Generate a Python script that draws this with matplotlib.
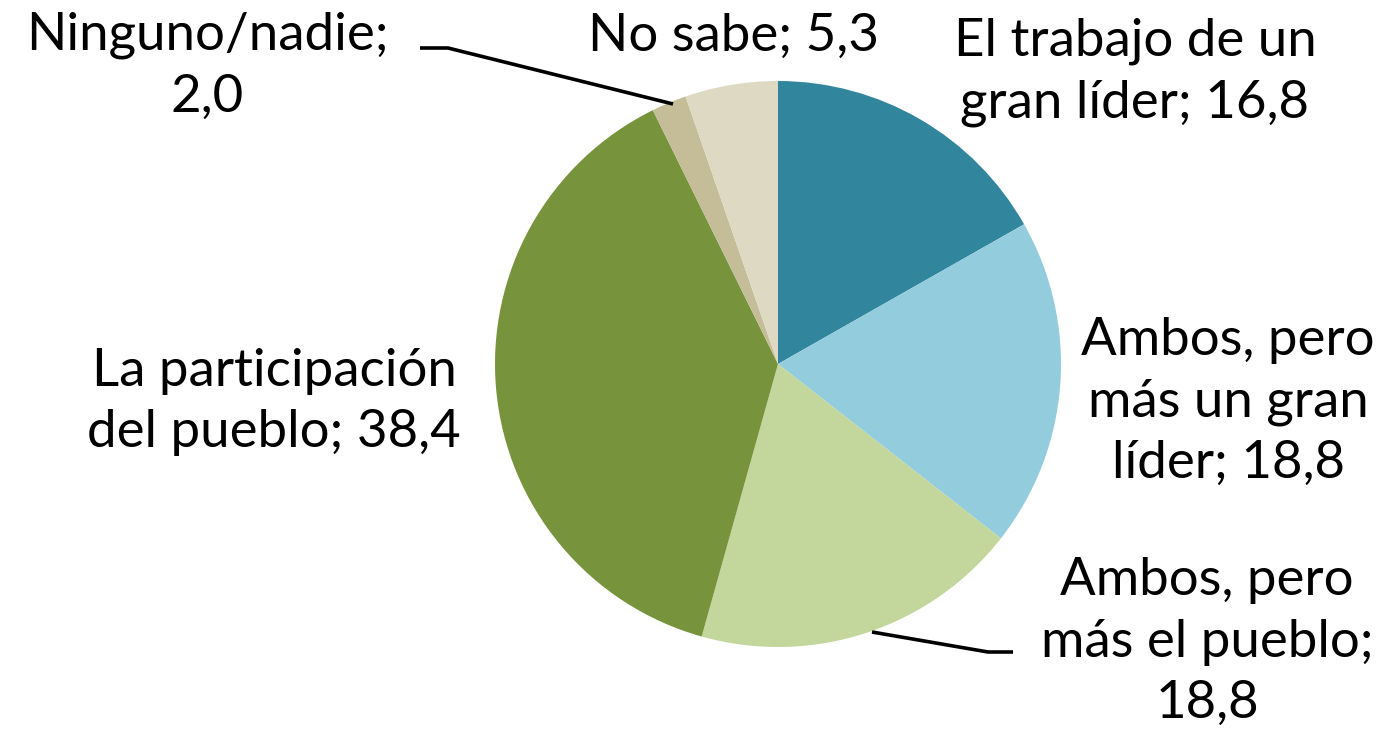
import matplotlib
matplotlib.use('Agg')
import matplotlib.pyplot as plt

labels = ['El trabajo de un\ngran líder; 16,8',
          'Ambos, pero\nmás un gran\nlíder; 18,8',
          'Ambos, pero\nmás el pueblo;\n18,8',
          'La participación\ndel pueblo; 38,4',
          'Ninguno/nadie;\n2,0',
          'No sabe; 5,3']
values = [16.8, 18.8, 18.8, 38.4, 2.0, 5.3]
colors = ['#31859C', '#93CDDD', '#C3D69B', '#77933C', '#C4BD97', '#DDD9C3']

W, H = 1398, 740

fig = plt.figure(figsize=(W / 100, H / 100), dpi=100)
ax = fig.add_axes([0, 0, 1, 1])

ax.pie(values, colors=colors, startangle=90, counterclock=False,
       center=(778, H - 364), radius=283, frame=True,
       wedgeprops={'linewidth': 0})
ax.set_xlim(0, W)
ax.set_ylim(0, H)
ax.axis('off')

# label positions in pixels (x, y from top)
label_pos = [(1135, 72), (1228, 402), (1207, 642), (274, 402), (207, 66), (733, 36)]
for txt, (x, y) in zip(labels, label_pos):
    ax.text(x, H - y, txt, ha='center', va='center', fontsize=38,
            family='Lato', linespacing=1.38)

# leader lines
ax.plot([420, 448, 673], [H - 48, H - 48, H - 104], color='black', lw=2.6,
        solid_capstyle='butt')
ax.plot([872, 988, 1013], [H - 632, H - 652, H - 652], color='black', lw=2.6,
        solid_capstyle='butt')

fig.savefig('out.png', dpi=100)
